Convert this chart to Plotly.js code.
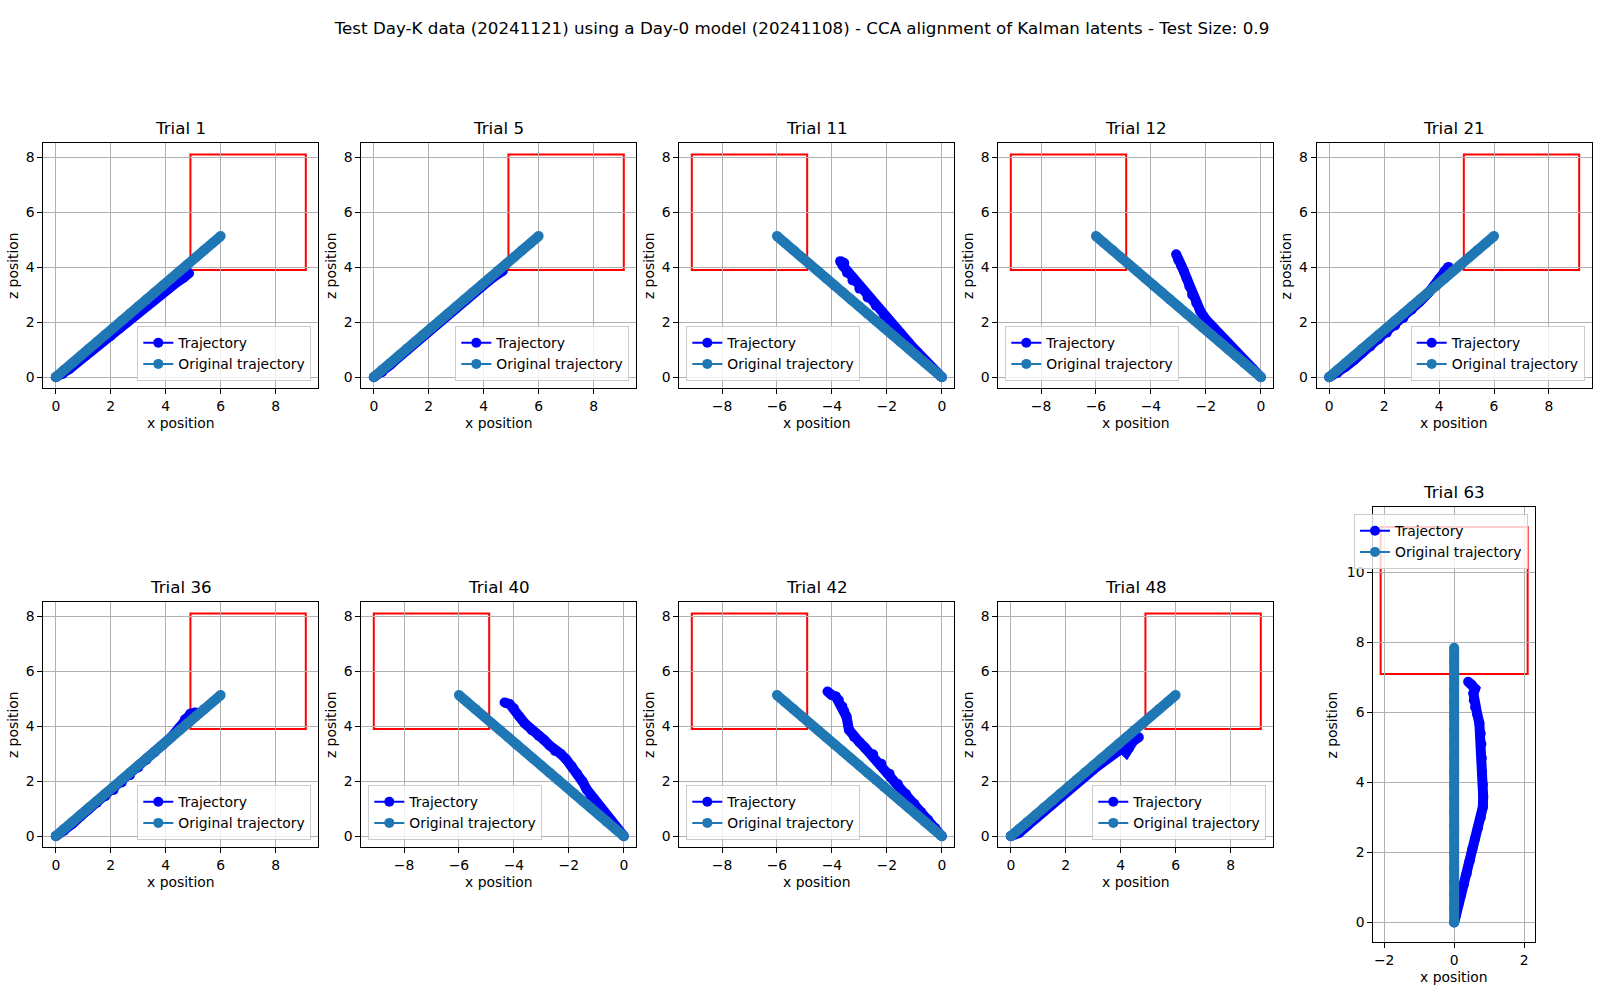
<!DOCTYPE html>
<html>
<head>
<meta charset="utf-8">
<script src="https://cdn.plot.ly/plotly-3.0.1.min.js"></script>
<style>
  html, body { margin: 0; padding: 0; background: #fff; }
  #chart { width: 1604px; height: 1000px; }
</style>
</head>
<body>
<div id="chart"></div>
<script>
// ---- data (x / z position) ----
var trialNames = ['Trial 1', 'Trial 5', 'Trial 11', 'Trial 12', 'Trial 21',
                  'Trial 36', 'Trial 40', 'Trial 42', 'Trial 48', 'Trial 63'];

// original trajectories
var origRightX = [0, 0.3, 0.6, 0.9, 1.2, 1.5, 1.8, 2.1, 2.4, 2.7, 3.0, 3.3, 3.6, 3.9, 4.2, 4.5, 4.8, 5.1, 5.4, 5.7, 6.0];
var origRightZ = [0, 0.26, 0.51, 0.77, 1.03, 1.28, 1.54, 1.8, 2.05, 2.31, 2.57, 2.82, 3.08, 3.33, 3.59, 3.85, 4.1, 4.36, 4.62, 4.87, 5.13];
var origLeftX = [0, -0.3, -0.6, -0.9, -1.2, -1.5, -1.8, -2.1, -2.4, -2.7, -3.0, -3.3, -3.6, -3.9, -4.2, -4.5, -4.8, -5.1, -5.4, -5.7, -6.0];
var origLeftZ = [0, 0.26, 0.51, 0.77, 1.03, 1.28, 1.54, 1.8, 2.05, 2.31, 2.57, 2.82, 3.08, 3.33, 3.59, 3.85, 4.1, 4.36, 4.62, 4.87, 5.13];
var origUpX = [0, 0, 0, 0, 0, 0, 0, 0, 0, 0, 0, 0, 0, 0, 0, 0, 0, 0, 0, 0, 0];
var origUpZ = [0, 0.39, 0.79, 1.18, 1.57, 1.96, 2.36, 2.75, 3.14, 3.53, 3.93, 4.32, 4.71, 5.1, 5.5, 5.89, 6.28, 6.67, 7.07, 7.46, 7.85];

// decoded trajectories
var traj1X = [0, 0.25, 0.5, 0.8, 1.1, 1.4, 1.7, 2.0, 2.3, 2.6, 2.9, 3.2, 3.5, 3.8, 4.1, 4.4, 4.65, 4.85];
var traj1Z = [0, 0.12, 0.3, 0.55, 0.8, 1.05, 1.28, 1.5, 1.75, 2.0, 2.25, 2.5, 2.75, 2.98, 3.22, 3.45, 3.62, 3.78];
var traj5X = [0, 0.3, 0.6, 0.9, 1.2, 1.5, 1.8, 2.1, 2.4, 2.7, 3.0, 3.3, 3.6, 3.9, 4.2, 4.5, 4.7];
var traj5Z = [0, 0.18, 0.45, 0.72, 0.98, 1.25, 1.52, 1.78, 2.02, 2.28, 2.52, 2.78, 3.03, 3.28, 3.52, 3.74, 3.87];
var traj11X = [0, -0.3, -0.6, -0.9, -1.2, -1.5, -1.8, -2.1, -2.4, -2.7, -3.0, -3.25, -3.45, -3.6, -3.7, -3.55];
var traj11Z = [0, 0.28, 0.6, 0.92, 1.25, 1.6, 1.92, 2.25, 2.6, 2.9, 3.22, 3.52, 3.8, 4.05, 4.22, 4.15];
var traj12X = [0, -0.3, -0.6, -0.9, -1.2, -1.5, -1.8, -2.0, -2.2, -2.35, -2.5, -2.6, -2.7, -2.8, -2.9, -3.0, -3.08];
var traj12Z = [0, 0.3, 0.6, 0.92, 1.22, 1.52, 1.85, 2.1, 2.4, 2.7, 3.0, 3.3, 3.6, 3.85, 4.05, 4.25, 4.47];
var traj21X = [0, 0.3, 0.6, 0.9, 1.2, 1.5, 1.8, 2.1, 2.4, 2.7, 3.0, 3.3, 3.6, 3.8, 4.0, 4.2, 4.34];
var traj21Z = [0, 0.15, 0.38, 0.62, 0.88, 1.12, 1.38, 1.62, 1.88, 2.15, 2.45, 2.75, 3.05, 3.3, 3.58, 3.85, 4.01];
var traj36X = [0, 0.3, 0.6, 0.9, 1.2, 1.5, 1.8, 2.1, 2.4, 2.7, 3.0, 3.3, 3.6, 3.9, 4.2, 4.5, 4.7, 4.9, 5.09];
var traj36Z = [0, 0.2, 0.45, 0.72, 0.98, 1.22, 1.45, 1.68, 1.95, 2.22, 2.5, 2.78, 3.05, 3.32, 3.6, 3.95, 4.25, 4.45, 4.5];
var traj40X = [0, -0.3, -0.55, -0.8, -1.0, -1.2, -1.35, -1.5, -1.7, -1.9, -2.1, -2.3, -2.5, -2.7, -2.9, -3.1, -3.35, -3.6, -3.8, -4.0, -4.15, -4.34];
var traj40Z = [0, 0.35, 0.65, 0.95, 1.2, 1.45, 1.7, 1.98, 2.28, 2.55, 2.8, 3.0, 3.1, 3.3, 3.5, 3.65, 3.85, 4.1, 4.35, 4.65, 4.8, 4.86];
var traj42X = [0, -0.25, -0.5, -0.75, -1.0, -1.3, -1.6, -1.9, -2.2, -2.5, -2.8, -3.0, -3.2, -3.38, -3.47, -3.55, -3.62, -3.75, -3.86, -4.02, -4.16];
var traj42Z = [0, 0.3, 0.6, 0.88, 1.18, 1.53, 1.9, 2.27, 2.63, 2.98, 3.22, 3.42, 3.62, 3.87, 4.35, 4.55, 4.72, 4.95, 5.08, 5.14, 5.26];
var traj48X = [0, 0.3, 0.6, 0.9, 1.2, 1.5, 1.8, 2.1, 2.4, 2.7, 3.0, 3.3, 3.6, 3.85, 4.05, 4.2, 4.3, 4.45, 4.66];
var traj48Z = [0, 0.12, 0.38, 0.65, 0.9, 1.15, 1.42, 1.68, 1.92, 2.18, 2.42, 2.65, 2.9, 3.1, 3.2, 3.05, 3.2, 3.45, 3.6];
var traj63X = [0, 0.05, 0.12, 0.2, 0.28, 0.36, 0.44, 0.52, 0.6, 0.68, 0.76, 0.82, 0.83, 0.82, 0.8, 0.79, 0.78, 0.76, 0.72, 0.66, 0.6, 0.56, 0.55, 0.6, 0.5, 0.4];
var traj63Z = [0, 0.2, 0.5, 0.8, 1.1, 1.4, 1.75, 2.1, 2.4, 2.7, 3.0, 3.3, 3.6, 3.95, 4.3, 4.7, 5.1, 5.4, 5.7, 5.95, 6.15, 6.35, 6.55, 6.68, 6.8, 6.88];

// target boxes [min, max]
var targetRightX = [4.9, 9.1];
var targetLeftX = [-9.1, -4.9];
var targetMidZ = [3.9, 8.1];
var targetUpX = [-2.1, 2.1];
var targetUpZ = [7.1, 11.3];

var trajX = [traj1X, traj5X, traj11X, traj12X, traj21X, traj36X, traj40X, traj42X, traj48X, traj63X];
var trajZ = [traj1Z, traj5Z, traj11Z, traj12Z, traj21Z, traj36Z, traj40Z, traj42Z, traj48Z, traj63Z];
var origX = [origRightX, origRightX, origLeftX, origLeftX, origRightX, origRightX, origLeftX, origLeftX, origRightX, origUpX];
var origZ = [origRightZ, origRightZ, origLeftZ, origLeftZ, origRightZ, origRightZ, origLeftZ, origLeftZ, origRightZ, origUpZ];
var targetX = [targetRightX, targetRightX, targetLeftX, targetLeftX, targetRightX, targetRightX, targetLeftX, targetLeftX, targetRightX, targetUpX];
var targetZ = [targetMidZ, targetMidZ, targetMidZ, targetMidZ, targetMidZ, targetMidZ, targetMidZ, targetMidZ, targetMidZ, targetUpZ];

// ---- page layout (pixels) ----
var W = 1604, H = 1000;
var FONT = 'DejaVu Sans, sans-serif';
// [left, top, width, height]
var boxes = [
  [43.3, 143.3, 275, 245], [361.3, 143.3, 275, 245], [679.3, 143.3, 275, 245], [998.3, 143.3, 275, 245], [1316.7, 143.3, 275, 245],
  [43.3, 602.3, 275, 245], [361.3, 602.3, 275, 245], [679.3, 602.3, 275, 245], [998.3, 602.3, 275, 245],
  [1373.3, 507.3, 161.7, 435]
];
var legendSpot = ['lr', 'lr', 'll', 'll', 'lr', 'lr', 'll', 'll', 'lr', 'ur'];

var BLUE = '#0000ff', TAB = '#1f77b4';
var MS = 10;

function extent(arrs) {
  var lo = Infinity, hi = -Infinity;
  arrs.forEach(function (a) { a.forEach(function (v) { lo = Math.min(lo, v); hi = Math.max(hi, v); }); });
  var pad = (hi - lo) * 0.05;
  return [lo - pad, hi + pad];
}

var data = [];
var layout = {
  width: W, height: H,
  margin: {l: 0, r: 0, t: 0, b: 0},
  paper_bgcolor: '#ffffff',
  plot_bgcolor: '#ffffff',
  font: {family: FONT, color: '#000000', size: 13.9},
  showlegend: true,
  title: {
    text: 'Test Day-K data (20241121) using a Day-0 model (20241108) - CCA alignment of Kalman latents - Test Size: 0.9',
    x: 0.5, xanchor: 'center', y: 1 - 27.7 / H, yanchor: 'middle',
    font: {family: FONT, size: 16.7, color: '#000000'}
  },
  annotations: [],
  shapes: []
};

trialNames.forEach(function (name, i) {
  var s = i === 0 ? '' : String(i + 1);
  var xa = 'x' + s, ya = 'y' + s, lg = 'legend' + s;
  var b = boxes[i];
  var left = b[0], top = b[1], right = b[0] + b[2], bottom = b[1] + b[3];

  // thick underlay so the dense markers read as a solid band
  data.push({x: trajX[i], y: trajZ[i], xaxis: xa, yaxis: ya, mode: 'lines',
    line: {color: BLUE, width: MS}, showlegend: false, hoverinfo: 'skip', legend: lg});
  data.push({x: trajX[i], y: trajZ[i], xaxis: xa, yaxis: ya, mode: 'lines+markers', name: 'Trajectory',
    line: {color: BLUE, width: 2}, marker: {color: BLUE, size: MS}, legend: lg});
  data.push({x: origX[i], y: origZ[i], xaxis: xa, yaxis: ya, mode: 'lines',
    line: {color: TAB, width: MS}, showlegend: false, hoverinfo: 'skip', legend: lg});
  data.push({x: origX[i], y: origZ[i], xaxis: xa, yaxis: ya, mode: 'lines+markers', name: 'Original trajectory',
    line: {color: TAB, width: 2}, marker: {color: TAB, size: MS}, legend: lg});

  var axBase = {
    showgrid: true, gridcolor: '#b0b0b0', gridwidth: 1,
    zeroline: false, showline: true, mirror: true, linecolor: '#000000', linewidth: 1,
    ticks: 'outside', ticklen: 5, tickwidth: 1, tickcolor: '#000000',
    tickfont: {family: FONT, size: 13.9, color: '#000000'},
    dtick: 2, tick0: 0, fixedrange: true
  };
  layout['xaxis' + s] = Object.assign({}, axBase, {
    domain: [left / W, right / W], anchor: ya,
    range: extent([trajX[i], origX[i], targetX[i]])
  });
  layout['yaxis' + s] = Object.assign({}, axBase, {
    domain: [1 - bottom / H, 1 - top / H], anchor: xa,
    range: extent([trajZ[i], origZ[i], targetZ[i]])
  });

  layout.shapes.push({type: 'rect', xref: xa, yref: ya, layer: 'below',
    x0: targetX[i][0], x1: targetX[i][1], y0: targetZ[i][0], y1: targetZ[i][1],
    line: {color: '#ff0000', width: 2}, fillcolor: 'rgba(0,0,0,0)'});

  var cx = (left + right) / 2 / W;
  layout.annotations.push({text: name, xref: 'paper', yref: 'paper', showarrow: false,
    x: cx, y: 1 - (top - 15) / H, xanchor: 'center', yanchor: 'middle',
    font: {family: FONT, size: 16.7, color: '#000000'}});
  layout.annotations.push({text: 'x position', xref: 'paper', yref: 'paper', showarrow: false,
    x: cx, y: 1 - (bottom + 35) / H, xanchor: 'center', yanchor: 'middle',
    font: {family: FONT, size: 13.9, color: '#000000'}});
  layout.annotations.push({text: 'z position', xref: 'paper', yref: 'paper', showarrow: false,
    x: (left - (i === 9 ? 41.6 : 31)) / W, y: 1 - (top + bottom) / 2 / H, textangle: -90,
    xanchor: 'center', yanchor: 'middle',
    font: {family: FONT, size: 13.9, color: '#000000'}});

  var leg = {
    bgcolor: 'rgba(255,255,255,0.8)', bordercolor: '#cccccc', borderwidth: 1,
    font: {family: FONT, size: 13.9, color: '#000000'},
    traceorder: 'normal', tracegroupgap: 0
  };
  if (legendSpot[i] === 'lr') {
    leg.x = (right - 7) / W; leg.xanchor = 'right';
    leg.y = 1 - (bottom - 7) / H; leg.yanchor = 'bottom';
  } else if (legendSpot[i] === 'll') {
    leg.x = (left + 7) / W; leg.xanchor = 'left';
    leg.y = 1 - (bottom - 7) / H; leg.yanchor = 'bottom';
  } else {
    leg.x = (right - 7) / W; leg.xanchor = 'right';
    leg.y = 1 - (top + 7) / H; leg.yanchor = 'top';
  }
  layout[lg] = leg;
});

Plotly.newPlot('chart', data, layout, {displayModeBar: false, staticPlot: true});
</script>
</body>
</html>
